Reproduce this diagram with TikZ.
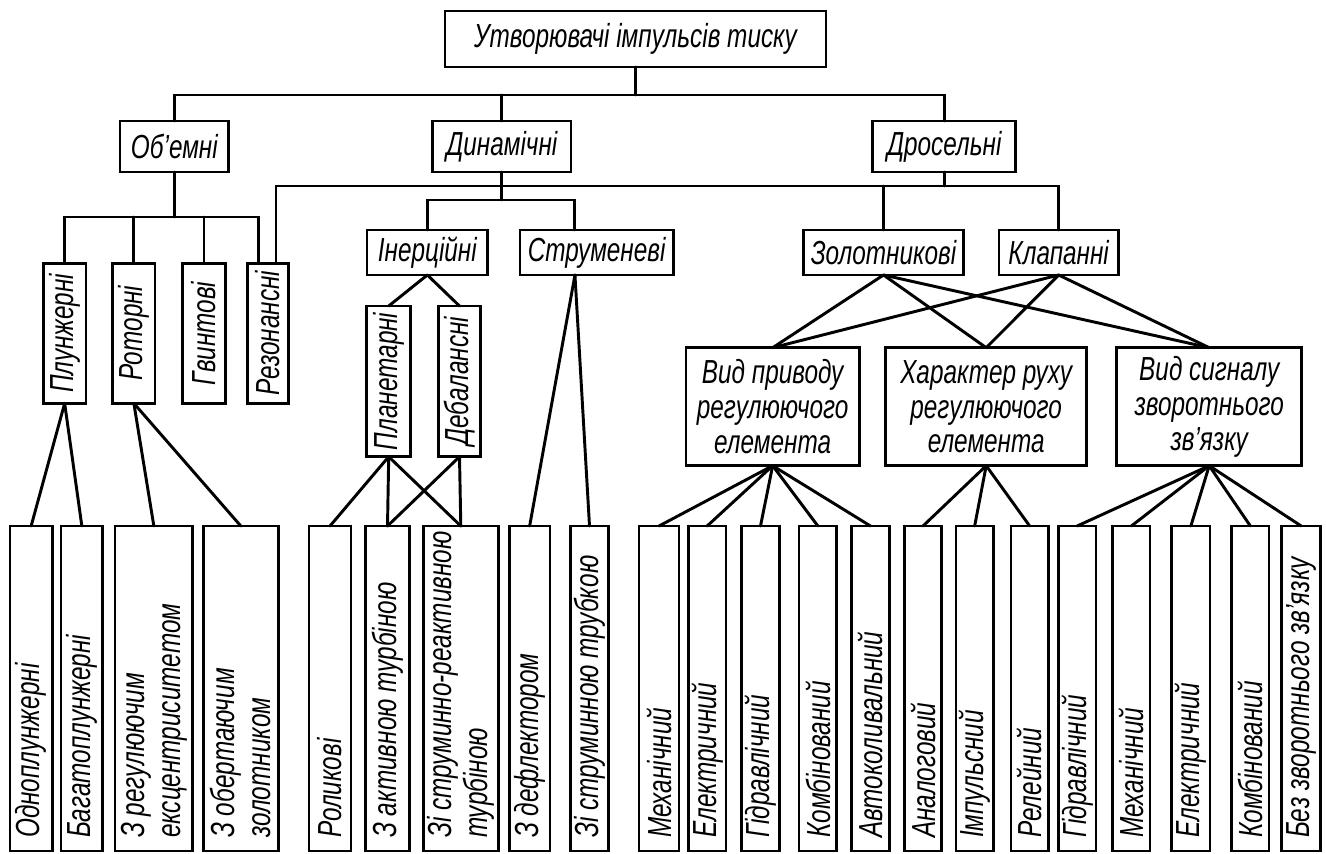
\documentclass[tikz,border=0pt]{standalone}
\usepackage{graphicx}
\usepackage{fontspec}
\setmainfont{Liberation Sans}[FakeStretch=0.73]
\usetikzlibrary{calc}
\newcommand\lbl{\fontsize{25}{26}\selectfont\itshape}
\tikzset{
  box/.style={draw,line width=2.2pt,inner sep=0pt,outer sep=0pt,font=\lbl,align=center},
  conn/.style={line width=2.2pt,line cap=round,line join=miter}
}
\newcommand\bx[7][]{%
  \pgfmathsetmacro\bxw{(#5-#3)*0.75}%
  \pgfmathsetmacro\bxh{(#6-#4)*0.75}%
  \node[box,minimum width=\bxw pt,minimum height=\bxh pt,#1] (#2) at ({(#3+#5)/2},{(#4+#6)/2}) {#7};%
}
\newcommand\vt[1]{\rotatebox{90}{#1}}
\newcommand\vb[1]{\rotatebox{90}{\makebox[224pt][l]{#1}}}
\newcommand\vbb[2]{\rotatebox{90}{\vbox{\baselineskip=27pt\lineskiplimit=-100pt
  \hbox to 224pt{#1\hss}\hbox to 224pt{#2\hss}}}}
\begin{document}
\begin{tikzpicture}[x=0.75pt,y=-0.75pt]
\useasboundingbox (0,0) rectangle (1326,853);
% level 0-1
\bx{top}{445}{11}{826}{67}{Утворювачі імпульсів тиску}
\bx{ob}{120}{121}{228.7}{172}{Об’емні}
\bx{din}{432.7}{121}{571}{172}{Динамічні}
\bx{dros}{872.7}{121}{1015.7}{172}{Дросельні}
% level 2
\bx{plu}{43.3}{263.3}{86}{403.3}{\vt{Плунжерні}}
\bx{rot}{112.7}{263.3}{155}{403.3}{\vt{Роторні}}
\bx{gv}{182.7}{263.3}{225.3}{403.3}{\vt{Гвинтові}}
\bx{rez}{247.7}{263.3}{288.3}{403.3}{\vt{Резонансні}}
\bx{iner}{367}{230}{487.7}{275}{Інерційні}
\bx{str}{520}{230}{673.3}{275}{Струменеві}
\bx{zol}{803.7}{230}{963.3}{275}{Золотникові}
\bx{klap}{999}{230}{1118.3}{275}{Клапанні}
% level 3
\bx{plan}{366.7}{306}{410.7}{456.7}{\vt{Планетарні}}
\bx{deb}{438.3}{306}{480.7}{456.7}{\vt{Дебалансні}}
\bx{vp}{686}{347.7}{859.3}{465.7}{Вид приводу\\регулюючого\\елемента}
\bx{hr}{885.7}{347.7}{1086.7}{465.7}{Характер руху\\регулюючого\\елемента}
\bx{vs}{1116.7}{347.7}{1301.7}{465.7}{Вид сигналу\\зворотнього\\зв’язку}
% bottom level
\bx{odn}{10}{526}{52.3}{851}{\vb{Одноплунжерні}}
\bx{bag}{61}{526}{102.7}{851}{\vb{Багатоплунжерні}}
\bx{reg}{115}{526}{192.7}{851}{\vbb{З регулюючим}{ексцентриситетом}}
\bx{obe}{203.3}{526}{278.3}{851}{\vbb{З обертаючим}{золотником}}
\bx{rol}{309}{526}{351}{851}{\vb{Роликові}}
\bx{akt}{365.7}{526}{409.3}{851}{\vb{З активною турбіною}}
\bx{srt}{423.3}{526}{498.3}{851}{\vbb{Зі струминно-реактивною}{турбіною}}
\bx{def}{509.3}{526}{550}{851}{\vb{З дефлектором}}
\bx{stt}{570.7}{526}{608.3}{851}{\vb{Зі струминною трубкою}}
\bx{ma}{639}{526}{679}{851}{\vb{Механічний}}
\bx{ea}{688.3}{526}{726}{851}{\vb{Електричний}}
\bx{ga}{741.7}{526}{779.3}{851}{\vb{Гідравлічний}}
\bx{ka}{799}{526}{836.7}{851}{\vb{Комбінований}}
\bx{aa}{851.7}{526}{889.3}{851}{\vb{Автоколивальний}}
\bx{an}{904.3}{526}{941.7}{851}{\vb{Аналоговий}}
\bx{im}{956}{526}{993.3}{851}{\vb{Імпульсний}}
\bx{re}{1011}{526}{1048.3}{851}{\vb{Релейний}}
\bx{gb}{1058.3}{526}{1096}{851}{\vb{Гідравлічний}}
\bx{mb}{1112.7}{526}{1150}{851}{\vb{Механічний}}
\bx{eb}{1171.7}{526}{1210}{851}{\vb{Електричний}}
\bx{kb}{1231.7}{526}{1269}{851}{\vb{Комбінований}}
\bx{bz}{1281.7}{526}{1320.7}{851}{\vb{Без зворотнього зв’язку}}
% bus levels
\coordinate (b1) at (0,95);
\coordinate (b2) at (0,217);
\coordinate (b3) at (0,186);
\coordinate (b4) at (0,200);
\coordinate (rezA) at ($(rez.north)+(-9.7,0)$);
\coordinate (rezB) at ($(rez.north)+(8,0)$);
\coordinate (strA) at ($(str.north)+(-21.7,0)$);
\coordinate (strB) at ($(str.south)+(-21.7,0)$);
% orthogonal connectors
\draw[conn] (top.south) -- (top.south |- b1);
\draw[conn] (ob.north) -- (ob.north |- b1) -- (dros.north |- b1) -- (dros.north);
\draw[conn] (din.north) -- (din.north |- b1);
\draw[conn] (ob.south) -- (ob.south |- b2);
\draw[conn] (plu.north) -- (plu.north |- b2) -- (rezA |- b2) -- (rezA);
\draw[conn] (rot.north) -- (rot.north |- b2);
\draw[conn] (gv.north) -- (gv.north |- b2);
\draw[conn] (rezB) -- (rezB |- b3) -- (klap.north |- b3) -- (klap.north);
\draw[conn] (din.south) -- (din.south |- b4);
\draw[conn] (dros.south) -- (dros.south |- b3);
\draw[conn] (zol.north) -- (zol.north |- b3);
\draw[conn] (iner.north) -- (iner.north |- b4) -- (strA |- b4) -- (strA);
% diagonal connectors
\foreach \c in {odn,bag} \draw[conn] (plu.south) -- (\c.north);
\foreach \c in {reg,obe} \draw[conn] (rot.south) -- (\c.north);
\foreach \c in {plan,deb} \draw[conn] (iner.south) -- (\c.north);
\foreach \c in {rol,akt,srt} \draw[conn] (plan.south) -- (\c.north);
\foreach \c in {akt,srt} \draw[conn] (deb.south) -- (\c.north);
\foreach \c in {def,stt} \draw[conn] (strB) -- (\c.north);
\foreach \c in {vp,hr,vs} \draw[conn] (zol.south) -- (\c.north);
\foreach \c in {vp,hr,vs} \draw[conn] (klap.south) -- (\c.north);
\foreach \c in {ma,ea,ga,ka,aa} \draw[conn] (vp.south) -- (\c.north);
\foreach \c in {an,im,re} \draw[conn] (hr.south) -- (\c.north);
\foreach \c in {gb,mb,eb,kb,bz} \draw[conn] (vs.south) -- (\c.north);
\end{tikzpicture}
\end{document}
